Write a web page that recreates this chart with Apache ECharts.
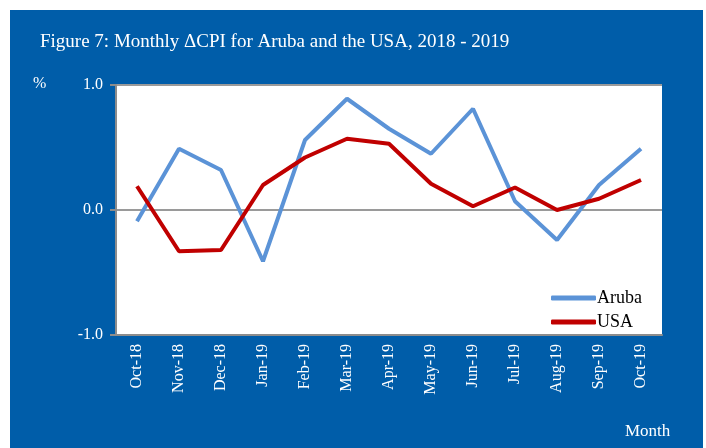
<!DOCTYPE html>
<html>
<head>
<meta charset="utf-8">
<script src="https://cdn.jsdelivr.net/npm/echarts@6/dist/echarts.min.js"></script>
<style>
html,body{margin:0;padding:0;background:#fff;}
#c{width:706px;height:448px;}
</style>
</head>
<body>
<div id="c"></div>
<script>
const categories = ['Oct-18','Nov-18','Dec-18','Jan-19','Feb-19','Mar-19','Apr-19','May-19','Jun-19','Jul-19','Aug-19','Sep-19','Oct-19'];
const aruba = [-0.09, 0.49, 0.32, -0.41, 0.56, 0.89, 0.65, 0.45, 0.81, 0.07, -0.24, 0.20, 0.49];
const usa = [0.19, -0.33, -0.32, 0.20, 0.42, 0.57, 0.53, 0.21, 0.03, 0.18, 0.00, 0.09, 0.24];
const yTicks = [-1.0, 0.0, 1.0];

const serif = '"Liberation Serif","Times New Roman",serif';
const chart = echarts.init(document.getElementById('c'));
chart.setOption({
  animation: false,
  backgroundColor: '#fff',
  graphic: [
    {type:'rect', z:-10, shape:{x:10,y:10,width:693,height:438}, style:{fill:'#005DA9'}},
    {type:'text', left:40, top:33, style:{text:'Figure 7: Monthly \u0394CPI for Aruba and the USA, 2018 - 2019', fill:'#fff', font:'19px ' + serif}},
    {type:'text', left:33, top:76, style:{text:'%', fill:'#fff', font:'16px ' + serif}},
    {type:'text', left:625, top:423, style:{text:'Month', fill:'#fff', font:'17px ' + serif}}
  ],
  grid: {left:116, right:44, top:85, bottom:113, show:true, backgroundColor:'#fff', borderWidth:0},
  legend: {
    left: 551, top: 289, orient:'vertical', itemWidth:45, itemHeight:5, itemGap:6, padding:0,
    icon:'roundRect',
    textStyle:{fontFamily:serif, fontSize:18, color:'#000', padding:[0,0,0,-4]},
    data:['Aruba','USA']
  },
  xAxis: {
    type:'category', data:categories, boundaryGap:true,
    axisLine:{onZero:false, lineStyle:{color:'#8c8c8c', width:2}},
    axisTick:{show:false},
    axisLabel:{rotate:90, color:'#fff', fontFamily:serif, fontSize:16, margin:9, interval:0}
  },
  yAxis: {
    type:'value', min:yTicks[0], max:yTicks[yTicks.length-1], interval:1,
    axisLine:{show:true, lineStyle:{color:'#8c8c8c', width:2}},
    axisTick:{show:true, length:6, lineStyle:{color:'#8c8c8c', width:2}},
    splitLine:{show:true, lineStyle:{color:'#9a9a9a', width:2}},
    axisLabel:{color:'#fff', fontFamily:serif, fontSize:16, margin:13, formatter:v=>v.toFixed(1)}
  },
  series: [
    {name:'Aruba', type:'line', data:aruba, symbol:'none', lineStyle:{color:'#5B93D7', width:4}, itemStyle:{color:'#5B93D7'}},
    {name:'USA', type:'line', data:usa, symbol:'none', lineStyle:{color:'#C00000', width:4}, itemStyle:{color:'#C00000'}}
  ]
});
</script>
</body>
</html>
